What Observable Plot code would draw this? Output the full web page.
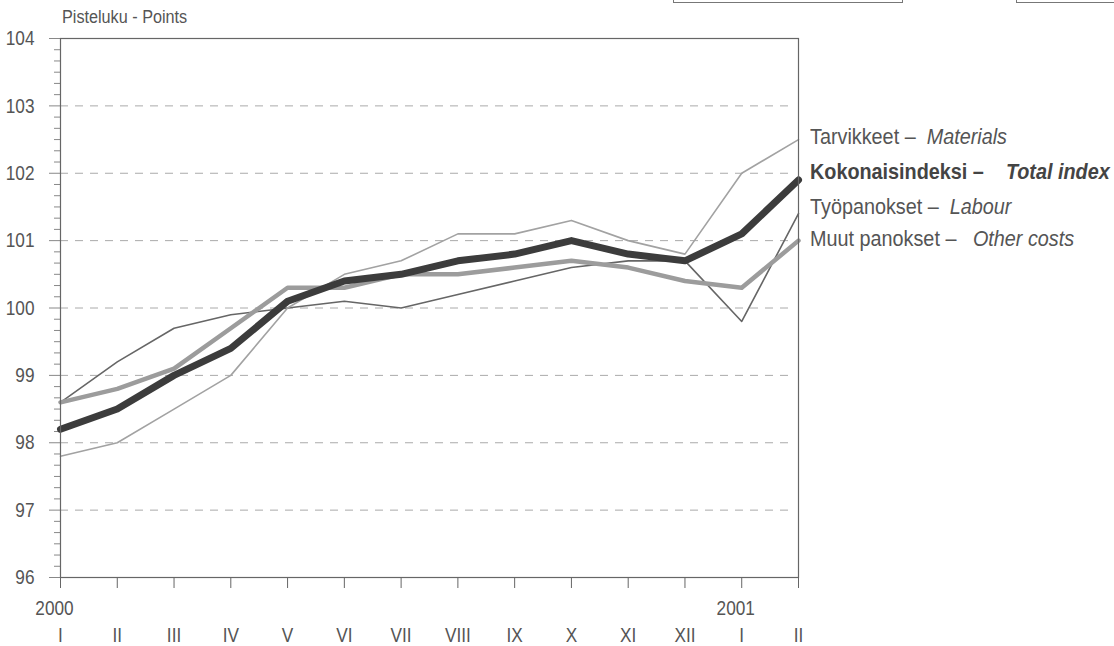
<!DOCTYPE html>
<html>
<head>
<meta charset="utf-8">
<script src="https://cdn.jsdelivr.net/npm/d3@7"></script>
<script src="https://cdn.jsdelivr.net/npm/@observablehq/plot@0.6"></script>
<style>
  html, body { margin: 0; padding: 0; background: #fff; }
  #wrap { position: relative; width: 1114px; height: 646px; overflow: hidden;
          font-family: "Liberation Sans", Arial, sans-serif; color: #555; }
  .box { position: absolute; border: 1.5px solid #777; background: #fff; }
  .leg { position: absolute; left: 810px; height: 26px; line-height: 26px; font-size: 22px; white-space: nowrap; color: #555;
         transform: scaleX(0.9); transform-origin: 0 50%; }
  .leg i { font-style: italic; }
  #title { position: absolute; left: 62px; top: 7px; font-size: 18px; color: #555; white-space: nowrap;
           transform: scaleX(0.9); transform-origin: 0 50%; }
</style>
</head>
<body>
<div id="wrap">
  <div class="box" style="left:673px; top:-20px; width:228px; height:21px;"></div>
  <div class="box" style="left:1016px; top:-20px; width:110px; height:21px;"></div>
  <div id="title">Pisteluku - Points</div>
  <div id="chart"></div>
  <div class="leg" style="top:124px;">Tarvikkeet –&nbsp;&nbsp;<i>Materials</i></div>
  <div class="leg" style="top:159px; font-weight:bold; color:#444;">Kokonaisindeksi –&nbsp;&nbsp;&nbsp;&nbsp;<i>Total index</i></div>
  <div class="leg" style="top:194px;">Työpanokset –&nbsp;&nbsp;<i>Labour</i></div>
  <div class="leg" style="top:226px;">Muut panokset –&nbsp;&nbsp;&nbsp;<i>Other costs</i></div>
</div>
<script>
// Months (Jan 2000 – Feb 2001)
const months = ["I","II","III","IV","V","VI","VII","VIII","IX","X","XI","XII","I","II"];
const yearLabels = [{i: 0, text: "2000"}, {i: 12, text: "2001"}];
const yTicks = [96, 97, 98, 99, 100, 101, 102, 103, 104];

const totalIndex = [98.2, 98.5, 99.0, 99.4, 100.1, 100.4, 100.5, 100.7, 100.8, 101.0, 100.8, 100.7, 101.1, 101.9];
const materials  = [97.8, 98.0, 98.5, 99.0, 100.0, 100.5, 100.7, 101.1, 101.1, 101.3, 101.0, 100.8, 102.0, 102.5];
const labour     = [98.6, 99.2, 99.7, 99.9, 100.0, 100.1, 100.0, 100.2, 100.4, 100.6, 100.7, 100.7, 99.8, 101.4];
const otherCosts = [98.6, 98.8, 99.1, 99.7, 100.3, 100.3, 100.5, 100.5, 100.6, 100.7, 100.6, 100.4, 100.3, 101.0];

const idx = months.map((_, i) => i);
const series = (vals) => vals.map((v, i) => ({i, v}));
const minorTicks = d3.range(96 * 6, 104 * 6 + 1).map(k => k / 6).filter(v => Math.abs(v - Math.round(v)) > 1e-6);

const chart = Plot.plot({
  width: 1114,
  height: 646,
  marginLeft: 60,
  marginRight: 316,
  marginTop: 38,
  marginBottom: 69,
  style: {fontFamily: '"Liberation Sans", Arial, sans-serif', background: "transparent", color: "#555"},
  x: {domain: [0, 13], label: null},
  y: {domain: [96, 104], label: null},
  marks: [
    Plot.ruleY(yTicks.slice(1, -1), {x1: 0, x2: 12.9, stroke: "#aaa", strokeWidth: 1, strokeDasharray: "8,7"}),
    Plot.axisY({ticks: minorTicks, tickSize: 6, tickFormat: () => "", stroke: "#888", label: null}),
    Plot.axisY({ticks: yTicks, tickSize: 11, tickPadding: 15, fontSize: 21, stroke: "#888", fill: "#555", tickFormat: d => String(d), label: null}),
    Plot.axisX({ticks: idx, tickSize: 11, tickFormat: () => "", stroke: "#666", label: null}),
    Plot.text(idx, {x: d => d, text: d => months[d], frameAnchor: "bottom", dy: 58, lineAnchor: "middle", fontSize: 21, fill: "#555"}),
    Plot.text(yearLabels, {x: "i", text: "text", frameAnchor: "bottom", dx: -6, dy: 31, lineAnchor: "middle", fontSize: 21, fill: "#555"}),
    Plot.line(series(labour), {x: "i", y: "v", stroke: "#666", strokeWidth: 1.6}),
    Plot.line(series(materials), {x: "i", y: "v", stroke: "#a2a2a2", strokeWidth: 1.6}),
    Plot.line(series(otherCosts), {x: "i", y: "v", stroke: "#9c9c9c", strokeWidth: 4.5}),
    Plot.line(series(totalIndex), {x: "i", y: "v", stroke: "#3c3c3c", strokeWidth: 7}),
    Plot.frame({stroke: "#666", strokeWidth: 1.2})
  ]
});
// Narrow the glyphs (no condensed font installed): append a horizontal scale to each text's own transform
d3.select(chart).selectAll("text").each(function() {
  const t = this.getAttribute("transform") || "";
  this.setAttribute("transform", (t + " scale(0.82,1)").trim());
});
document.getElementById("chart").appendChild(chart);
</script>
</body>
</html>
